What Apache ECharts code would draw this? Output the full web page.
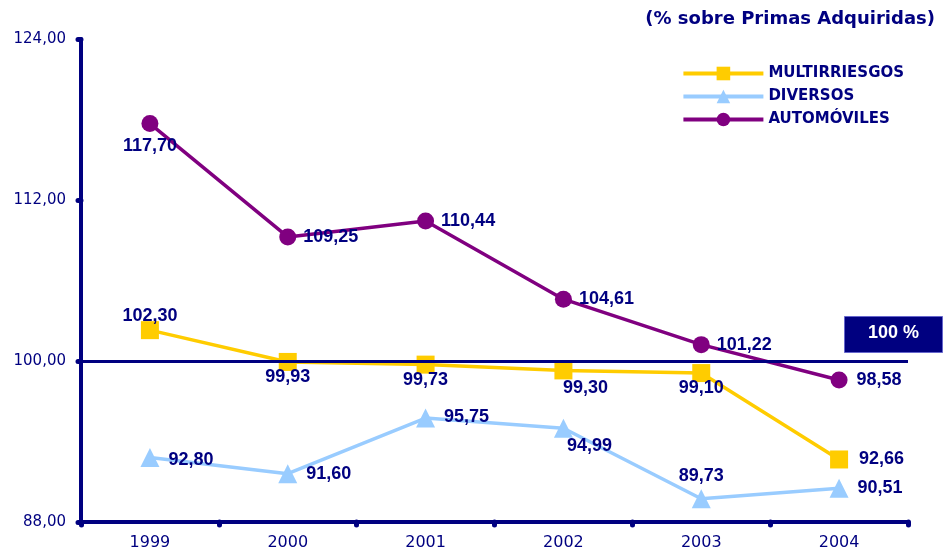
<!DOCTYPE html>
<html>
<head>
<meta charset="utf-8">
<script src="https://cdn.jsdelivr.net/npm/echarts@6/dist/echarts.min.js"></script>
<style>
  html, body { margin: 0; padding: 0; background: #fff; }
  #chart { width: 947px; height: 556px; }
</style>
</head>
<body>
<div id="chart"></div>
<script>
var years = ['1999', '2000', '2001', '2002', '2003', '2004']
var multirriesgos = [102.30, 99.93, 99.73, 99.30, 99.10, 92.66]
var diversos = [92.80, 91.60, 95.75, 94.99, 89.73, 90.51]
var automoviles = [117.70, 109.25, 110.44, 104.61, 101.22, 98.58]
var yTicks = [88, 100, 112, 124]

// where each data label sits, per point, and a small nudge
var multiPos = ['top', 'bottom', 'bottom', 'bottom', 'bottom', 'right']
var multiOff = [[0, 11], [0, -10], [0, -10], [22, -7], [0, -10], [4, 0]]
var diverPos = ['right', 'right', 'right', 'bottom', 'top', 'right']
var diverOff = [[2, 2], [2, 0], [2, -1], [26, -8], [0, 3], [2, 0]]
var autoPos = ['bottom', 'right', 'right', 'right', 'right', 'right']
var autoOff = [[0, -2], [0, 0], [0, 0], [0, 0], [0, 0], [2, 0]]

var navy = '#000080'
var wide = 'DejaVu Sans, sans-serif'
var arial = 'Liberation Sans, Arial, sans-serif'
var fmt = function (v) { return v.toFixed(2).replace('.', ',') }

function points(values, pos, offsets) {
  return values.map(function (v, i) {
    return {
      value: v,
      label: { position: pos[i], offset: offsets[i] }
    }
  })
}

var labelStyle = {
  show: true,
  color: navy,
  fontWeight: 'bold',
  fontSize: 18,
  fontFamily: arial,
  distance: 7,
  formatter: function (p) { return fmt(p.value) }
}

var chart = echarts.init(document.getElementById('chart'))
chart.setOption({
  animation: false,
  textStyle: { fontFamily: wide },
  title: {
    text: '(% sobre Primas Adquiridas)',
    right: 7,
    top: 5,
    textStyle: { color: navy, fontSize: 18, fontWeight: 'bold', fontFamily: wide }
  },
  legend: {
    orient: 'vertical',
    right: 38,
    top: 61,
    itemWidth: 80,
    itemHeight: 17,
    itemGap: 8,
    lineStyle: { width: 4 },
    textStyle: { color: navy, fontSize: 15, fontWeight: 'bold', fontFamily: wide },
    data: ['MULTIRRIESGOS', 'DIVERSOS', 'AUTOMÓVILES']
  },
  grid: { left: 81, right: 39, top: 39, bottom: 34 },
  xAxis: {
    type: 'category',
    data: years,
    boundaryGap: true,
    axisLine: { lineStyle: { color: navy, width: 4, cap: 'round' } },
    axisTick: { show: true, length: 3, lineStyle: { color: navy, width: 5, cap: 'round' } },
    axisLabel: { color: navy, fontSize: 16, margin: 13, fontFamily: wide }
  },
  yAxis: {
    type: 'value',
    min: yTicks[0],
    max: yTicks[yTicks.length - 1],
    interval: 12,
    axisLine: { show: true, lineStyle: { color: navy, width: 4, cap: 'round' } },
    axisTick: { show: true, length: 3, lineStyle: { color: navy, width: 5, cap: 'round' } },
    splitLine: { show: false },
    axisLabel: { color: navy, fontSize: 15, margin: 15, fontFamily: wide, formatter: fmt }
  },
  series: [
    {
      name: 'MULTIRRIESGOS',
      type: 'line',
      data: points(multirriesgos, multiPos, multiOff),
      symbol: 'rect',
      symbolSize: 18,
      itemStyle: { color: '#FFCC00' },
      lineStyle: { color: '#FFCC00', width: 3.5 },
      label: labelStyle,
      z: 2,
      markLine: {
        silent: true,
        symbol: 'none',
        label: { show: false },
        lineStyle: { color: navy, width: 3, type: 'solid' },
        data: [{ yAxis: 100 }],
        z: 5
      }
    },
    {
      name: 'DIVERSOS',
      type: 'line',
      data: points(diversos, diverPos, diverOff),
      symbol: 'triangle',
      symbolSize: 19,
      itemStyle: { color: '#99CCFF' },
      lineStyle: { color: '#99CCFF', width: 3.5 },
      label: labelStyle,
      z: 2
    },
    {
      name: 'AUTOMÓVILES',
      type: 'line',
      data: points(automoviles, autoPos, autoOff),
      symbol: 'circle',
      symbolSize: 17,
      itemStyle: { color: '#800080' },
      lineStyle: { color: '#800080', width: 3.5 },
      label: labelStyle,
      z: 3
    }
  ],
  graphic: [
    {
      type: 'rect',
      right: 4,
      top: 316,
      shape: { width: 98, height: 36 },
      style: { fill: navy, stroke: '#6666cc', lineWidth: 1 },
      z: 10
    },
    {
      type: 'text',
      right: 28,
      top: 324,
      style: { text: '100 %', fill: '#fff', fontSize: 18, fontWeight: 'bold', fontFamily: arial },
      z: 11
    }
  ]
})
</script>
</body>
</html>
